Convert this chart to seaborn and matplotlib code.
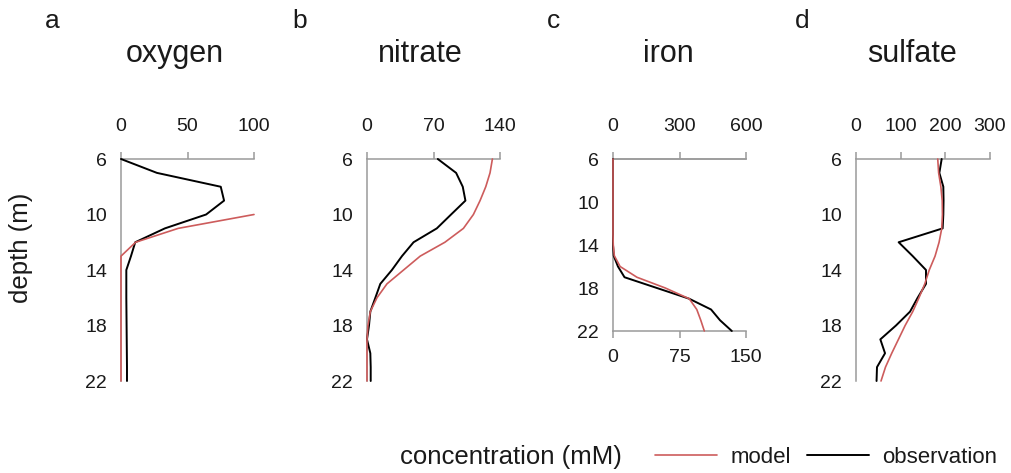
import numpy as np
import pandas as pd
import matplotlib
matplotlib.use("Agg")
import matplotlib.pyplot as plt
from matplotlib.lines import Line2D
import seaborn as sns


# DATA

depth = [6, 7, 8, 9, 10, 11, 12, 13, 14, 15, 16, 17, 18, 19, 20, 21, 22]

oxygen_obs = [0, 27, 75, 77.5, 64, 33, 10.7, 7.5, 4, 4, 4, 4.1, 4.2, 4.3, 4.4, 4.5, 4.5]
oxygen_model_depth = [10, 11, 12, 13, 14, 15, 16, 17, 18, 19, 20, 21, 22]
oxygen_model = [100, 43, 11, 0, 0, 0, 0, 0, 0, 0, 0, 0, 0]

nitrate_obs = [74.5, 93.8, 100.8, 103.6, 88.5, 73.5, 49, 36.8, 26.2, 14, 8.8, 3.5, 2.1, 0, 3.5, 3.9, 3.9]
nitrate_model = [132, 129.5, 125, 119, 112, 101.5, 82, 56, 38.5, 21, 10.5, 3.5, 1, 0, 0, 0, 0]

iron_obs = [0, 0, 0, 0, 0, 0, 0, 0, 0, 0.8, 5.6, 13, 49.5, 86, 110.6, 120.7, 134]
iron_model = [0, 0, 0, 0, 0, 0, 0, 0, 0.3, 1.5, 8, 27, 59, 86, 94.5, 99, 103]

sulfate_obs = [191.8, 186.6, 195.5, 196, 195.5, 194, 95.5, 127, 156.7, 156.7, 138, 121, 89.5, 54.5, 65, 47, 46]
sulfate_model = [183, 185, 190, 193, 193.5, 192, 186, 177, 164, 154, 141, 127, 110, 95, 80, 66, 56]

panel_letters = ["a", "b", "c", "d"]
panel_titles = ["oxygen", "nitrate", "iron", "sulfate"]

y_ticks = [6, 10, 14, 18, 22]

RED = "#CD5C5C"
GREY = "#9a9a9a"
TEXT = "#1a1a1a"


# FUNCTIONS

def px_rect(x0, y0, x1, y1, w=1011, h=473):
    """pixel box (top-left origin) -> figure fraction rect"""
    return [x0 / w, 1 - y1 / h, (x1 - x0) / w, (y1 - y0) / h]


def style_axis(ax, xlim, xticks, bottom=False):
    ax.set_ylim(22, 6)
    ax.set_yticks(y_ticks)
    ax.set_xlim(*xlim)
    ax.set_xlabel("")
    ax.set_ylabel("")
    for side in ["right", "bottom"]:
        ax.spines[side].set_visible(False)
    for side in ["left", "top"]:
        ax.spines[side].set_color(GREY)
        ax.spines[side].set_linewidth(1.1)
    ax.tick_params(direction="out", length=5, width=1.1, color=GREY,
                   labelsize=14, labelcolor=TEXT)
    ax.tick_params(axis="y", pad=5)
    if bottom:
        ax.spines["bottom"].set_visible(True)
        ax.spines["bottom"].set_color(GREY)
        ax.spines["bottom"].set_linewidth(1.1)
        ax.set_xticks(xticks)
        ax.tick_params(axis="x", bottom=True, top=False, labelbottom=True,
                       labeltop=False, pad=8)
    else:
        ax.xaxis.tick_top()
        ax.set_xticks(xticks)
        ax.tick_params(axis="x", pad=12)
    ax.grid(False)
    ax.set_facecolor("white")


def profile(ax, obs, model, model_depth=None):
    obs_df = pd.DataFrame({"depth": depth, "value": obs})
    md = depth if model_depth is None else model_depth
    mod_df = pd.DataFrame({"depth": md, "value": model})
    sns.lineplot(data=obs_df, x="value", y="depth", orient="y", estimator=None,
                 color="black", linewidth=1.4, ax=ax, clip_on=False, zorder=3)
    sns.lineplot(data=mod_df, x="value", y="depth", orient="y", estimator=None,
                 color=RED, linewidth=1.2, ax=ax, clip_on=False, zorder=4)


# PLOT

sns.set_theme(style="white")
plt.rcParams["font.family"] = ["Liberation Sans", "DejaVu Sans"]

fig = plt.figure(figsize=(10.11, 4.73), dpi=100)

ax_a = fig.add_axes(px_rect(121, 159, 254, 381))
ax_b = fig.add_axes(px_rect(367, 159, 500, 381))
ax_c = fig.add_axes(px_rect(613, 159, 746, 331))
ax_d = fig.add_axes(px_rect(856, 159, 990, 381))

profile(ax_a, oxygen_obs, oxygen_model, oxygen_model_depth)
style_axis(ax_a, (0, 100), [0, 50, 100])

profile(ax_b, nitrate_obs, nitrate_model)
style_axis(ax_b, (0, 140), [0, 70, 140])

profile(ax_c, iron_obs, iron_model)
style_axis(ax_c, (0, 150), [0, 75, 150], bottom=True)
sec = ax_c.secondary_xaxis("top", functions=(lambda v: v * 4, lambda v: v / 4))
sec.set_xticks([0, 300, 600])
sec.spines["top"].set_color(GREY)
sec.spines["top"].set_linewidth(1.1)
sec.tick_params(direction="out", length=5, width=1.1, color=GREY,
                labelsize=14, labelcolor=TEXT, pad=12)

profile(ax_d, sulfate_obs, sulfate_model)
style_axis(ax_d, (0, 300), [0, 100, 200, 300])

# panel letters and titles
letter_x = [52, 300, 553, 802]
title_x = [175, 420, 668, 912]
for lx, tx, letter, title in zip(letter_x, title_x, panel_letters, panel_titles):
    fig.text(lx / 1011, 1 - 28 / 473, letter, ha="center", va="baseline",
             fontsize=19, color=TEXT)
    fig.text(tx / 1011, 1 - 62 / 473, title, ha="center", va="baseline",
             fontsize=22, color=TEXT)

fig.text(21 / 1011, 1 - 248 / 473, "depth (m)", rotation=90, ha="center",
         va="center", fontsize=18.5, color=TEXT)

# legend
fig.text(400 / 1011, 1 - 457 / 473, "concentration (mM)", ha="left",
         va="center", fontsize=18.5, color=TEXT)
handles = [Line2D([], [], color=RED, linewidth=1.2),
           Line2D([], [], color="black", linewidth=1.4)]
leg = fig.legend(handles, ["model", "observation"], loc="center left",
                 bbox_to_anchor=(655 / 1011, 1 - 457 / 473), ncol=2,
                 frameon=False, fontsize=16, handlelength=2.8,
                 handletextpad=0.6, columnspacing=0.7, borderaxespad=0,
                 borderpad=0)
for t in leg.get_texts():
    t.set_color(TEXT)

fig.savefig("out.png", dpi=100)
